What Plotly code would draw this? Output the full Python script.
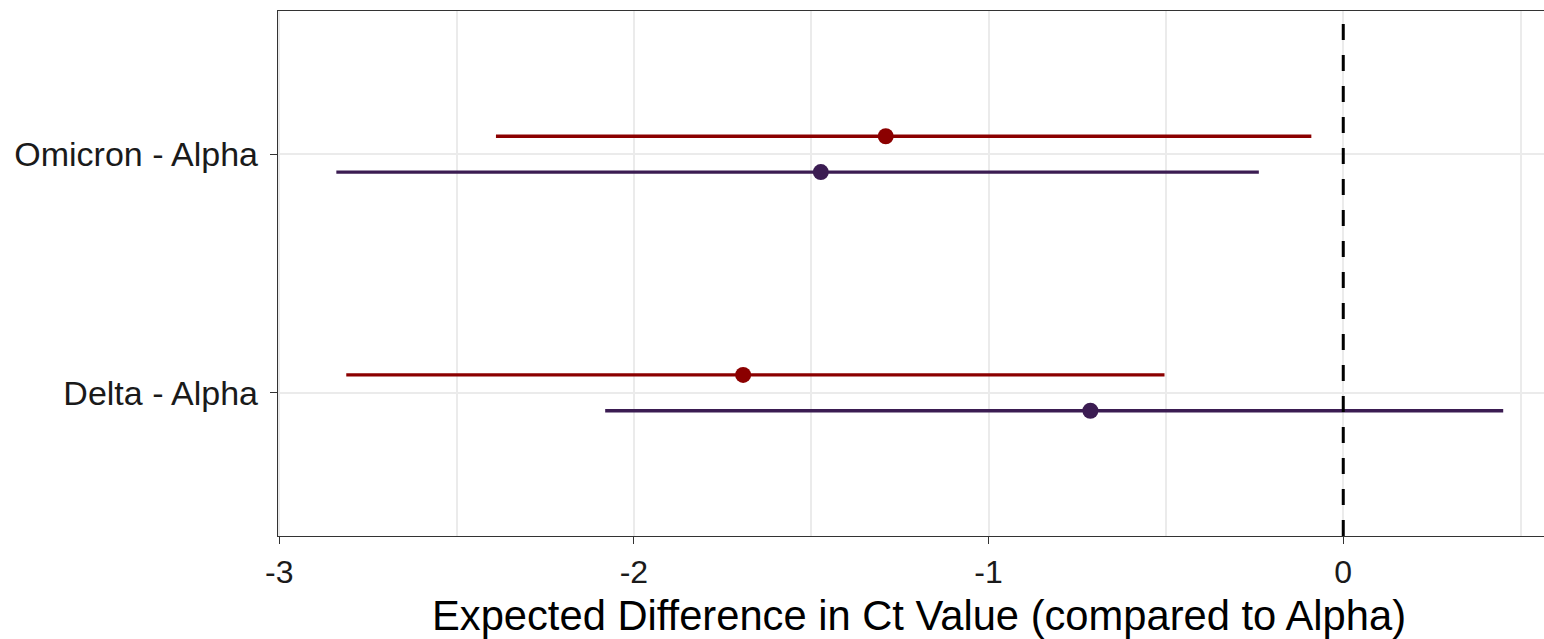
import plotly.graph_objects as go

# ---- data ----
categories = ["Delta - Alpha", "Omicron - Alpha"]
red_est = [-1.692, -1.290]
red_lo = [-2.811, -2.389]
red_hi = [-0.504, -0.090]
purple_est = [-0.713, -1.473]
purple_lo = [-2.081, -2.839]
purple_hi = [0.451, -0.238]
x_ticks = [-3, -2, -1, 0]
x_title = "Expected Difference in Ct Value (compared to Alpha)"

RED = "#8B0000"
PURPLE = "#3B1C52"
dodge = 0.075

fig = go.Figure()

def add_series(est, lo, hi, offset, color):
    ys = [i + 1 + offset for i in range(len(est))]
    fig.add_trace(go.Scatter(
        x=est, y=ys, mode="markers",
        marker=dict(color=color, size=16, line=dict(width=0)),
        error_x=dict(type="data", symmetric=False,
                     array=[h - e for h, e in zip(hi, est)],
                     arrayminus=[e - l for e, l in zip(est, lo)],
                     color=color, thickness=3.4, width=0),
        showlegend=False, hoverinfo="skip",
    ))

add_series(red_est, red_lo, red_hi, +dodge, RED)
add_series(purple_est, purple_lo, purple_hi, -dodge, PURPLE)

fig.add_shape(type="line", xref="x", yref="paper", x0=0, x1=0, y0=0, y1=1,
              line=dict(color="black", width=3, dash="16px,15px"), layer="above")

# axis title (centred on the full, partly cropped, panel)
fig.add_annotation(text=x_title, xref="paper", yref="paper", x=0.5065, y=-0.151,
                   xanchor="center", yanchor="middle", showarrow=False,
                   font=dict(size=41.7, color="black"))

fig.update_layout(
    width=1544, height=639,
    margin=dict(l=278, r=0, t=11, b=103),
    paper_bgcolor="white", plot_bgcolor="white",
    font=dict(family="Liberation Sans, Arial, sans-serif", color="#1A1A1A"),
    xaxis=dict(
        range=[-3.0035, 0.566],
        tickvals=x_ticks, ticktext=[str(v) for v in x_ticks],
        showgrid=True, gridcolor="#EBEBEB", gridwidth=2,
        minor=dict(showgrid=True, gridcolor="#EBEBEB", gridwidth=1.8, dtick=0.5, tick0=0.5),
        zeroline=False,
        showline=True, linecolor="#333333", linewidth=1.4, mirror=True,
        ticks="outside", ticklen=7, tickwidth=1.4, tickcolor="#333333",
        tickfont=dict(size=32, color="#1A1A1A"),
    ),
    yaxis=dict(
        range=[0.4, 2.6],
        tickvals=[1, 2], ticktext=categories,
        showgrid=True, gridcolor="#EBEBEB", gridwidth=2.2,
        zeroline=False,
        showline=True, linecolor="#333333", linewidth=1.4, mirror=False,
        ticks="outside", ticklen=7, tickwidth=1.4, tickcolor="#333333",
        ticklabelstandoff=5,
        tickfont=dict(size=34, color="#1A1A1A"),
    ),
)

fig.write_html("out.html")
